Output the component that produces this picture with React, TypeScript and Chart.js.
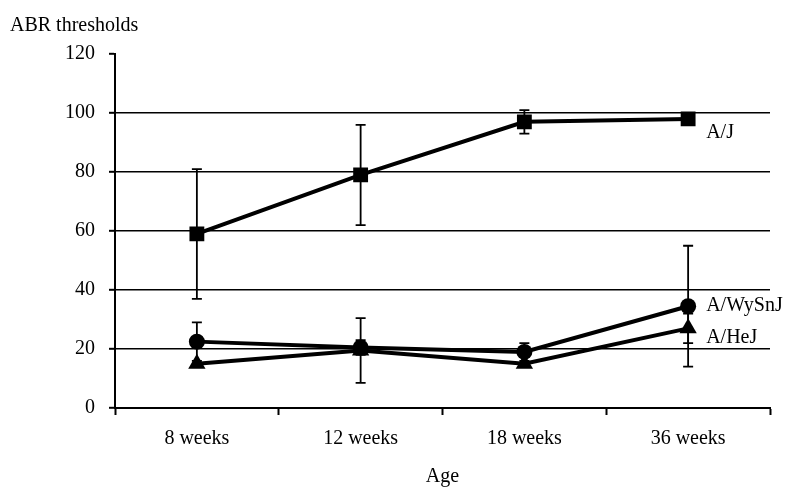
import React, { useEffect, useRef } from 'react';
import { Chart, registerables } from 'chart.js';

Chart.register(...registerables);

const categories = ['8 weeks', '12 weeks', '18 weeks', '36 weeks'];
const seriesNames = ['A/J', 'A/WySnJ', 'A/HeJ'];
const ajValues = [59, 79, 97, 98];
const ajErrors = [22, 17, 4, 0];
const wyValues = [22.5, 20.5, 19, 34.5];
const wyErrors = [6.5, 2.5, 3, 20.5];
const heValues = [15, 19.5, 15, 27];
const heErrors = [0, 11, 0, 5];
const yMin = 0;
const yMax = 120;
const yStep = 20;

const FONT = "'Liberation Serif', 'Times New Roman', serif";
const FS = 20;
const errorSets = [ajErrors, wyErrors, heErrors];
const labelOffsets = [
  [18, 14],
  [18, 0],
  [18, 9],
];

const errorBarPlugin = {
  id: 'errorBars',
  beforeDatasetsDraw(chart: any) {
    const { ctx } = chart;
    const y = chart.scales.y;
    ctx.save();
    ctx.strokeStyle = '#000';
    ctx.lineWidth = 1.8;
    chart.data.datasets.forEach((ds: any, i: number) => {
      const meta = chart.getDatasetMeta(i);
      meta.data.forEach((pt: any, j: number) => {
        const e = errorSets[i][j];
        if (!e) return;
        const v = ds.data[j];
        const yt = y.getPixelForValue(v + e);
        const yb = y.getPixelForValue(v - e);
        const x = pt.x;
        ctx.beginPath();
        ctx.moveTo(x, yt);
        ctx.lineTo(x, yb);
        ctx.moveTo(x - 5, yt);
        ctx.lineTo(x + 5, yt);
        ctx.moveTo(x - 5, yb);
        ctx.lineTo(x + 5, yb);
        ctx.stroke();
      });
    });
    ctx.restore();
  },
};

const seriesLabelPlugin = {
  id: 'seriesLabels',
  afterDatasetsDraw(chart: any) {
    const { ctx } = chart;
    ctx.save();
    ctx.fillStyle = '#000';
    ctx.font = `${FS}px ${FONT}`;
    ctx.textAlign = 'left';
    ctx.textBaseline = 'middle';
    chart.data.datasets.forEach((ds: any, i: number) => {
      const meta = chart.getDatasetMeta(i);
      const pt = meta.data[meta.data.length - 1];
      ctx.fillText(ds.label, pt.x + labelOffsets[i][0], pt.y + labelOffsets[i][1]);
    });
    ctx.restore();
  },
};

export default function App() {
  const ref = useRef<HTMLCanvasElement>(null);

  useEffect(() => {
    if (!ref.current) return;
    const common = {
      borderColor: '#000',
      backgroundColor: '#000',
      pointBackgroundColor: '#000',
      pointBorderColor: '#000',
      borderWidth: 4,
      pointBorderWidth: 0,
      tension: 0,
    };
    const chart = new Chart(ref.current, {
      type: 'line',
      data: {
        labels: categories,
        datasets: [
          { ...common, label: seriesNames[0], data: ajValues, pointStyle: 'rect', pointRadius: 10.5 },
          { ...common, label: seriesNames[1], data: wyValues, pointStyle: 'circle', pointRadius: 8 },
          { ...common, label: seriesNames[2], data: heValues, pointStyle: 'triangle', pointRadius: 10 },
        ],
      },
      options: {
        responsive: false,
        animation: false,
        events: [],
        layout: { padding: { left: 10, right: 30, top: 10, bottom: 0 } },
        plugins: {
          legend: { display: false },
          tooltip: { enabled: false },
          title: {
            display: true,
            text: 'ABR thresholds',
            align: 'start',
            color: '#000',
            font: { family: FONT, size: FS, weight: 'normal', lineHeight: 1.2 },
            padding: { top: 4, bottom: 16 },
          },
        },
        scales: {
          x: {
            type: 'category',
            offset: true,
            border: { color: '#000', width: 2 },
            grid: {
              offset: true,
              drawOnChartArea: false,
              tickLength: 7,
              tickColor: '#000',
              tickWidth: 2,
            },
            ticks: {
              color: '#000',
              font: { family: FONT, size: FS },
              padding: 12,
              maxRotation: 0,
            },
            title: {
              display: true,
              text: 'Age',
              color: '#000',
              font: { family: FONT, size: FS, lineHeight: 1.2 },
              padding: { top: 0, bottom: 5 },
            },
            afterFit(scale: any) {
              scale.height = 86;
            },
          },
          y: {
            min: yMin,
            max: yMax,
            border: { color: '#000', width: 2 },
            grid: {
              color: (c: any) =>
                c.tick && (c.tick.value === yMax || c.tick.value === yMin) ? 'rgba(0,0,0,0)' : '#000',
              lineWidth: 1.6,
              tickLength: 6,
              tickColor: '#000',
              tickWidth: 2,
            },
            ticks: {
              stepSize: yStep,
              color: '#000',
              font: { family: FONT, size: FS },
              padding: 14,
            },
            afterFit(scale: any) {
              scale.width = 105;
            },
          },
        },
      } as any,
      plugins: [errorBarPlugin, seriesLabelPlugin],
    });
    return () => chart.destroy();
  }, []);

  return (
    <div style={{ position: 'absolute', left: 0, top: 0, width: 800, height: 494, background: '#fff' }}>
      <canvas ref={ref} width={800} height={494} style={{ display: 'block' }} />
    </div>
  );
}
